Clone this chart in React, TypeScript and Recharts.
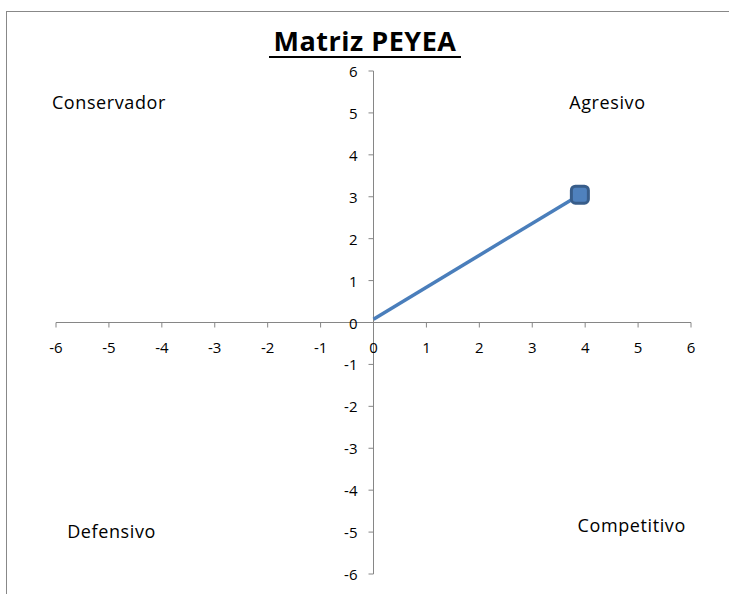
import { ScatterChart, Scatter, XAxis, YAxis, ReferenceLine, ReferenceDot } from 'recharts';

const xTicks = [-6, -5, -4, -3, -2, -1, 0, 1, 2, 3, 4, 5, 6];
const yTicks = [6, 5, 4, 3, 2, 1, 0, -1, -2, -3, -4, -5, -6];
const linePoints = [
  { x: 0, y: 0.08 },
  { x: 3.9, y: 3.05 },
];
const markerPoints = [{ x: 3.9, y: 3.05 }];
const quadrants = [
  { name: 'Conservador', x: -5, y: 5.23 },
  { name: 'Agresivo', x: 4.42, y: 5.23 },
  { name: 'Defensivo', x: -4.95, y: -4.99 },
  { name: 'Competitivo', x: 4.88, y: -4.85 },
];

const axisColor = '#868686';
const font = '"Open Sans", sans-serif';

const XTick = ({ cx, cy, value }: any) => (
  <g>
    <line x1={cx} y1={cy} x2={cx} y2={cy + 5} stroke={axisColor} strokeWidth={1} />
    <text x={cx} y={cy + 30} textAnchor="middle" fontSize={15} fontFamily={font} fill="#000">
      {value}
    </text>
  </g>
);

const YTick = ({ cx, cy, value }: any) => (
  <g>
    <line x1={cx - 5} y1={cy} x2={cx} y2={cy} stroke={axisColor} strokeWidth={1} />
    <text x={cx - 16} y={cy + 6} textAnchor="end" fontSize={15} fontFamily={font} fill="#000">
      {value}
    </text>
  </g>
);

const QuadLabel = ({ cx, cy, name }: any) => (
  <text x={cx} y={cy + 6} textAnchor="middle" fontSize={18} letterSpacing={0.6} fontFamily={font} fill="#000">
    {name}
  </text>
);

const Marker = ({ cx, cy }: any) => (
  <rect x={cx - 8.5} y={cy - 8.5} width={17} height={17} rx={4} ry={4} fill="#4F81BD" stroke="#385D8A" strokeWidth={3} />
);

export default function App() {
  return (
    <div style={{ position: 'absolute', left: 0, top: 0, width: 729, height: 594, overflow: 'hidden', background: '#fff' }}>
      <div
        style={{
          position: 'absolute',
          left: 6,
          top: 11,
          width: 900,
          height: 800,
          border: '1px solid #888',
        }}
      />
      <div style={{ position: 'absolute', left: 165, top: 25, width: 400, textAlign: 'center' }}>
        <span
          style={{
            display: 'inline-block',
            fontFamily: font,
            fontWeight: 700,
            fontSize: 27,
            lineHeight: '31px',
            letterSpacing: 0.5,
            padding: '0 5px',
            borderBottom: '2px solid #000',
          }}
        >
          Matriz PEYEA
        </span>
      </div>
      <div style={{ position: 'absolute', left: 0, top: 0 }}>
        <ScatterChart width={729} height={594} margin={{ top: 71, right: 38, bottom: 20, left: 56 }}>
          <XAxis type="number" dataKey="x" domain={[-6, 6]} hide />
          <YAxis type="number" dataKey="y" domain={[-6, 6]} hide />
          <ReferenceLine segment={[{ x: -6, y: 0 }, { x: 6, y: 0 }]} stroke={axisColor} strokeWidth={1} />
          <ReferenceLine segment={[{ x: 0, y: -6 }, { x: 0, y: 6 }]} stroke={axisColor} strokeWidth={1} />
          {xTicks.map((v) => (
            <ReferenceDot key={'x' + v} x={v} y={0} r={0} shape={(p: any) => <XTick {...p} value={v} />} />
          ))}
          {yTicks.map((v) => (
            <ReferenceDot key={'y' + v} x={0} y={v} r={0} shape={(p: any) => <YTick {...p} value={v} />} />
          ))}
          {quadrants.map((q) => (
            <ReferenceDot key={q.name} x={q.x} y={q.y} r={0} shape={(p: any) => <QuadLabel {...p} name={q.name} />} />
          ))}
          <Scatter
            data={linePoints}
            line={{ stroke: '#4A7EBB', strokeWidth: 3.5 }}
            lineType="joint"
            shape={() => <g />}
            isAnimationActive={false}
          />
          <Scatter data={markerPoints} shape={(p: any) => <Marker {...p} />} isAnimationActive={false} />
        </ScatterChart>
      </div>
    </div>
  );
}
